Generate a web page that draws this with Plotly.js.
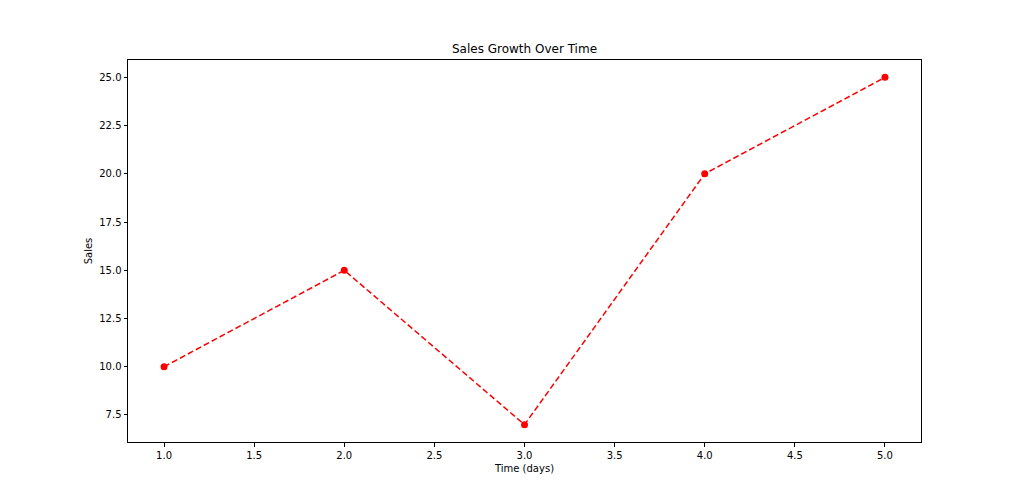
<!DOCTYPE html>
<html>
<head>
<meta charset="utf-8">
<script src="https://cdn.plot.ly/plotly-3.0.1.min.js"></script>
<style>html,body{margin:0;padding:0;background:#fff;}#chart{width:1024px;height:497px;}</style>
</head>
<body>
<div id="chart"></div>
<script>
const days = [1, 2, 3, 4, 5];
const sales = [10, 15, 7, 20, 25];
const xTicks = [1.0, 1.5, 2.0, 2.5, 3.0, 3.5, 4.0, 4.5, 5.0];
const yTicks = [7.5, 10.0, 12.5, 15.0, 17.5, 20.0, 22.5, 25.0];

const trace = {
  x: days, y: sales, type: 'scatter', mode: 'lines+markers',
  line: {color: 'red', dash: '6px,3px', width: 1.5},
  marker: {color: 'red', size: 7},
  showlegend: false
};
const font = {family: 'DejaVu Sans', size: 10, color: '#000'};
const layout = {
  width: 1024, height: 497,
  margin: {l: 128, r: 103, t: 60, b: 55},
  paper_bgcolor: '#fff', plot_bgcolor: '#fff',
  font: font,
  title: {text: 'Sales Growth Over Time', font: {family: 'DejaVu Sans', size: 12, color: '#000'}, x: 0.5, xref: 'paper', y: 1 - 49/497, yanchor: 'middle'},
  xaxis: {
    range: [0.8, 5.2], tickvals: xTicks, ticktext: xTicks.map(v => v.toFixed(1)),
    showgrid: false, zeroline: false, showline: true, mirror: true, linecolor: '#000', linewidth: 1,
    ticks: 'outside', ticklen: 3.5, tickcolor: '#000', tickfont: font,
    title: {text: 'Time (days)', font: font, standoff: 5}
  },
  yaxis: {
    range: [6.1, 25.9], tickvals: yTicks, ticktext: yTicks.map(v => v.toFixed(1)),
    showgrid: false, zeroline: false, showline: true, mirror: true, linecolor: '#000', linewidth: 1,
    ticks: 'outside', ticklen: 3.5, tickcolor: '#000', tickfont: font,
    title: {text: 'Sales', font: font, standoff: 4}
  }
};
Plotly.newPlot('chart', [trace], layout, {staticPlot: true, displayModeBar: false});
</script>
</body>
</html>
